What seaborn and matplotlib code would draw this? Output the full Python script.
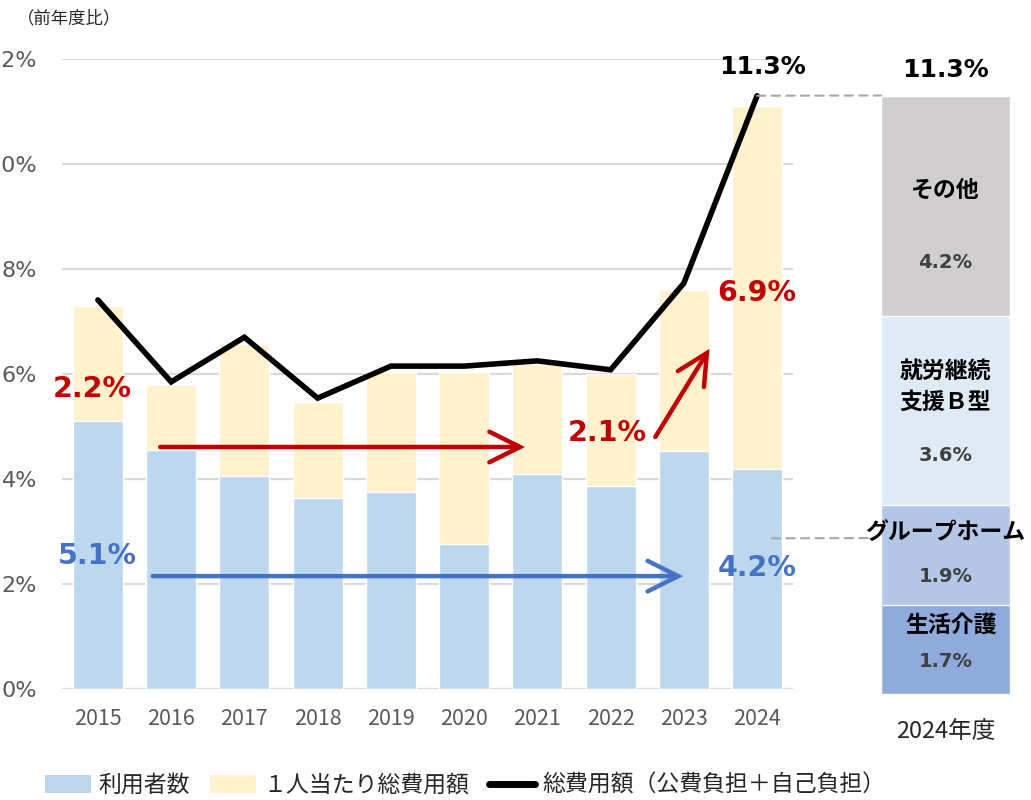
import numpy as np
import pandas as pd
import matplotlib
matplotlib.use("Agg")
import matplotlib.pyplot as plt
import seaborn as sns
from matplotlib.patches import Patch, ConnectionPatch
from matplotlib.lines import Line2D

# Year-on-year growth (%) of disability welfare service costs
years = ["2015", "2016", "2017", "2018", "2019", "2020", "2021", "2022", "2023", "2024"]
users = [5.1, 4.55, 4.06, 3.64, 3.75, 2.76, 4.10, 3.87, 4.53, 4.2]          # 利用者数
per_user = [2.2, 1.24, 2.51, 1.83, 2.29, 3.28, 2.09, 2.13, 3.07, 6.9]     # 1人当たり総費用額
total_cost = [7.41, 5.85, 6.70, 5.54, 6.15, 6.15, 6.25, 6.08, 7.73, 11.3]  # 総費用額

# 2024 breakdown of the total growth by service type
services = ["生活介護", "グループホーム", "就労継続\n支援Ｂ型", "その他"]
shares = [1.7, 1.9, 3.6, 4.2]
trend_label = "2.1%"

sns.set_theme(style="white")
plt.rcParams["font.family"] = ["Noto Sans CJK JP", "DejaVu Sans"]
NUM = "DejaVu Sans"

BLUE = "#BDD7EE"
YELLOW = "#FFF2CC"
RED = "#C00000"
DBLUE = "#4472C4"
seg_colors = ["#8FAADC", "#B4C7E7", "#DEEBF7", "#D0CECE"]

fig = plt.figure(figsize=(10.31, 8), dpi=100)
ax = fig.add_axes([62 / 1031, 111 / 800, 731 / 1031, 630 / 800])
ax2 = fig.add_axes([881 / 1031, 106 / 800, 129 / 1031, 630 / 800])

df = pd.DataFrame({"year": years, "users": users,
                   "total": np.add(users, per_user), "cost": total_cost})

# stacked bars: full height in yellow, user-count part in blue on top of it
sns.barplot(data=df, x="year", y="total", color=YELLOW, saturation=1,
            width=0.68, errorbar=None, ax=ax, zorder=2)
sns.barplot(data=df, x="year", y="users", color=BLUE, saturation=1,
            width=0.68, errorbar=None, ax=ax, zorder=2)
sns.lineplot(x=np.arange(len(years)), y=df["cost"], color="black", lw=4,
             ax=ax, zorder=4, solid_joinstyle="miter")

ax.set_xlim(-0.49, len(years) - 0.51)
ax.set_ylim(0, 12)
ax.set_yticks(np.arange(0, 13, 2))
ax.set_yticklabels([f"{v}%" for v in range(0, 13, 2)], fontfamily=NUM)
ax.yaxis.grid(True, color="#D9D9D9", lw=1.6)
ax.set_axisbelow(True)
for s in ax.spines.values():
    s.set_visible(False)
ax.tick_params(axis="y", length=0, pad=18, labelsize=16, labelcolor="#595959")
ax.tick_params(axis="x", length=0, pad=14, labelsize=15.5, labelcolor="#595959")
ax.set_xlabel("")
ax.set_ylabel("")

# value callouts
bold = dict(fontweight="bold", ha="center", va="center", family=NUM)
ax.text(-0.08, 5.71, f"{per_user[0]:.1f}%", color=RED, fontsize=20.5, **bold)
ax.text(9.0, 7.54, f"{per_user[-1]:.1f}%", color=RED, fontsize=20.5, **bold)
ax.text(6.95, 4.88, trend_label, color=RED, fontsize=20.5, **bold)
ax.text(-0.01, 2.53, f"{users[0]:.1f}%", color=DBLUE, fontsize=20.5, **bold)
ax.text(9.0, 2.30, f"{users[-1]:.1f}%", color=DBLUE, fontsize=20.5, **bold)
ax.text(9.08, 11.85, f"{total_cost[-1]:.1f}%", color="black", fontsize=18,
        clip_on=False, **bold)

arrow = dict(arrowstyle="->,head_length=1.1,head_width=0.55", lw=3.2,
             mutation_scale=20, capstyle="round", joinstyle="miter",
             shrinkA=0, shrinkB=0)
ax.annotate("", xy=(5.83, 4.61), xytext=(0.85, 4.61),
            arrowprops=dict(color=RED, **arrow), zorder=5)
ax.annotate("", xy=(7.99, 2.15), xytext=(0.75, 2.15),
            arrowprops=dict(color=DBLUE, **arrow), zorder=5)
ax.annotate("", xy=(8.35, 6.48), xytext=(7.61, 4.80),
            arrowprops=dict(color=RED, **arrow), zorder=5)

# 2024 breakdown column
cum = np.cumsum(shares)
for top, c in zip(cum[::-1], seg_colors[::-1]):
    sns.barplot(x=["2024年度"], y=[top], color=c, saturation=1, width=1.0,
                errorbar=None, ax=ax2)
ax2.set_xlim(-0.5, 0.5)
ax2.set_ylim(0, 12)
for s in ax2.spines.values():
    s.set_visible(False)
ax2.set_yticks([])
ax2.tick_params(axis="x", length=0, pad=19, labelsize=17, labelcolor="#262626")
ax2.set_xlabel("")
ax2.set_ylabel("")

name_y = [1.31, 3.07, 5.85, 9.6]
value_y = [0.61, 2.23, 4.55, 8.21]
name_x = [0.04, 0.0, 0.0, 0.0]
for nm, v, ny, vy, nx in zip(services, shares, name_y, value_y, name_x):
    ax2.text(nx, ny, nm, color="black", fontsize=16.5, fontweight="bold",
             ha="center", va="center", linespacing=1.45, clip_on=False)
    ax2.text(0, vy, f"{v:.1f}%", color="#404040", fontsize=14,
             fontweight="bold", ha="center", va="center", family=NUM)
ax2.text(0, 11.89, f"{total_cost[-1]:.1f}%", color="black", fontsize=18,
         clip_on=False, **bold)

# dashed guides between the two panels
guide = dict(color="#A6A6A6", lw=1.5, linestyle=(0, (4, 3)))
fig.add_artist(ConnectionPatch(xyA=(9, total_cost[-1]), coordsA=ax.transData,
                               xyB=(-0.5, cum[-1]), coordsB=ax2.transData,
                               **guide))
fig.add_artist(ConnectionPatch(xyA=(9.2, 2.87), coordsA=ax.transData,
                               xyB=(-0.58, 2.97), coordsB=ax2.transData,
                               **guide))

fig.text(0.016, 0.977, "（前年度比）", fontsize=12.5, color="#262626",
         ha="left", va="center")

handles = [Patch(facecolor=BLUE, edgecolor="none"),
           Patch(facecolor=YELLOW, edgecolor="none"),
           Line2D([], [], color="black", lw=5)]
labels = ["利用者数", "１人当たり総費用額", "総費用額（公費負担＋自己負担）"]
fig.legend(handles, labels, loc="lower left", bbox_to_anchor=(0.024, -0.022),
           ncol=3, frameon=False, fontsize=16.5, handlelength=2.0,
           handleheight=0.8, handletextpad=0.3, columnspacing=0.9,
           labelcolor="#262626")

fig.savefig("out.png", dpi=100)
